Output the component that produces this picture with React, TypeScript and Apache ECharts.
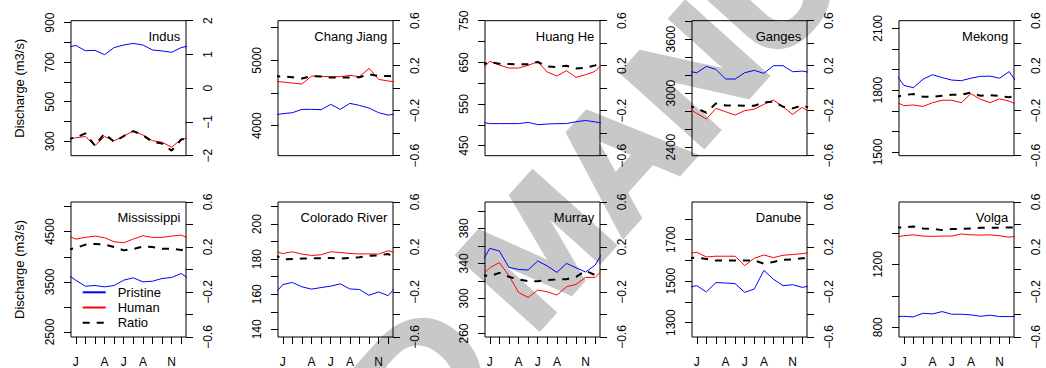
import React, { useEffect, useRef } from 'react';
import * as echarts from 'echarts';

// ---------- categories & tick labels ----------
const RIVERS = ['Indus', 'Chang Jiang', 'Huang He', 'Ganges', 'Mekong', 'Mississippi', 'Colorado River', 'Murray', 'Danube', 'Volga'];
const MONTH_LETTERS = ['J', 'F', 'M', 'A', 'M', 'J', 'J', 'A', 'S', 'O', 'N', 'D'];
const MONTH_TICKS = [1, 2, 3, 4, 5, 6, 7, 8, 9, 10, 11, 12];
const MONTH_LABEL_TICKS = [1, 4, 6, 8, 11];
const SERIES_NAMES = ['Pristine', 'Human', 'Ratio'];
const Y_TITLE = 'Discharge (m3/s)';
const WATERMARK = 'ACCEPTED MANUSCRIPT';

// ---------- series values (monthly, Jan..Dec) ----------
const INDUS_PRISTINE = [785, 758, 760, 738, 774, 787, 795, 787, 762, 757, 750, 774];
const INDUS_HUMAN = [318, 324, 278, 324, 302, 327, 352, 332, 303, 295, 270, 310];
const INDUS_RATIO = [-1.46, -1.34, -1.7, -1.34, -1.59, -1.42, -1.27, -1.39, -1.59, -1.64, -1.85, -1.52];

const CHANG_PRISTINE = [4184, 4199, 4250, 4250, 4245, 4327, 4250, 4342, 4311, 4270, 4199, 4163];
const CHANG_HUMAN = [4668, 4653, 4638, 4760, 4755, 4750, 4750, 4770, 4750, 4878, 4709, 4684];
const CHANG_RATIO = [0.104, 0.098, 0.086, 0.108, 0.104, 0.094, 0.096, 0.096, 0.098, 0.124, 0.108, 0.108];

const HUANG_PRISTINE = [503, 503, 503, 503, 506, 500.5, 502, 503, 503, 507.5, 510.5, 507];
const HUANG_HUMAN = [652.4, 643.6, 636.4, 636.4, 642.8, 651.6, 626.8, 617.2, 630, 614, 620.4, 628.4];
const HUANG_RATIO = [0.233, 0.218, 0.215, 0.212, 0.212, 0.233, 0.194, 0.188, 0.2, 0.176, 0.182, 0.203];

const GANGES_PRISTINE = [3226, 3296, 3263, 3156, 3156, 3226, 3252, 3219, 3304, 3304, 3237, 3244];
const GANGES_HUMAN = [2774, 2711, 2830, 2793, 2756, 2804, 2822, 2874, 2922, 2848, 2763, 2841];
const GANGES_RATIO = [-0.179, -0.218, -0.135, -0.153, -0.153, -0.156, -0.156, -0.126, -0.12, -0.164, -0.179, -0.153];

const MEKONG_PRISTINE = [1823, 1812, 1853, 1875, 1861, 1849, 1846, 1858, 1867, 1868, 1858, 1890];
const MEKONG_HUMAN = [1725, 1728, 1721, 1739, 1751, 1751, 1739, 1783, 1756, 1739, 1758, 1747];
const MEKONG_RATIO = [-0.061, -0.052, -0.076, -0.076, -0.067, -0.058, -0.058, -0.04, -0.067, -0.061, -0.07, -0.081];

const MISSISSIPPI_PRISTINE = [3533, 3413, 3427, 3400, 3427, 3533, 3580, 3500, 3513, 3567, 3587, 3667];
const MISSISSIPPI_HUMAN = [4353, 4387, 4413, 4380, 4300, 4280, 4353, 4420, 4387, 4387, 4413, 4433];
const MISSISSIPPI_RATIO = [0.191, 0.221, 0.227, 0.221, 0.2, 0.17, 0.182, 0.203, 0.2, 0.185, 0.185, 0.173];

const COLORADO_PRISTINE = [165.5, 166.7, 164.2, 162.9, 163.8, 164.6, 165.9, 163.0, 162.7, 159.4, 161.3, 159.2];
const COLORADO_HUMAN = [183.2, 184.2, 182.9, 182.1, 182.5, 184.2, 183.8, 183.2, 183.0, 183.0, 182.9, 184.8];
const COLORADO_RATIO = [0.091, 0.094, 0.097, 0.1, 0.1, 0.103, 0.097, 0.103, 0.109, 0.121, 0.126, 0.138];

const MURRAY_PRISTINE = [357.1, 354.1, 335.4, 333.1, 332.4, 342.7, 337, 329.7, 340, 335, 330.1, 338.1];
const MURRAY_HUMAN = [335, 340.8, 326, 306.9, 301.1, 309.5, 307.6, 303.8, 313.3, 316, 324, 324];
const MURRAY_RATIO = [-0.059, -0.03, -0.065, -0.089, -0.104, -0.104, -0.095, -0.089, -0.086, -0.065, -0.012, -0.05];

const DANUBE_PRISTINE = [1478, 1448, 1493, 1491, 1488, 1446, 1462, 1552, 1509, 1478, 1483, 1470];
const DANUBE_HUMAN = [1639, 1616.5, 1620, 1620, 1620, 1575, 1610, 1626, 1613, 1624.5, 1628, 1632.5];
const DANUBE_RATIO = [0.105, 0.093, 0.079, 0.079, 0.079, 0.081, 0.081, 0.052, 0.067, 0.087, 0.09, 0.099];

const VOLGA_PRISTINE = [870, 866, 889, 885, 900, 883, 883, 879, 870, 877, 868, 868];
const VOLGA_HUMAN = [1383, 1389, 1381, 1379, 1381, 1381, 1394, 1389, 1387, 1389, 1383, 1374];
const VOLGA_RATIO = [0.374, 0.383, 0.365, 0.362, 0.35, 0.359, 0.362, 0.365, 0.371, 0.371, 0.371, 0.374];

// ---------- left (discharge) axes: extent, ticks, labels ----------
const INDUS_AXIS = [227, 910];
const INDUS_TICKS = [300, 400, 500, 600, 700, 800, 900];
const INDUS_LABELS = [300, 500, 700, 900];
const CHANG_AXIS = [3541, 5607];
const CHANG_TICKS = [4000, 4500, 5000, 5500];
const CHANG_LABELS = [4000, 5000];
const HUANG_AXIS = [426, 750];
const HUANG_TICKS = [450, 500, 550, 600, 650, 700, 750];
const HUANG_LABELS = [450, 550, 650, 750];
const GANGES_AXIS = [2304, 3804];
const GANGES_TICKS = [2400, 2600, 2800, 3000, 3200, 3400, 3600, 3800];
const GANGES_LABELS = [2400, 3000, 3600];
const MEKONG_AXIS = [1482, 2137];
const MEKONG_TICKS = [1500, 1600, 1700, 1800, 1900, 2000, 2100];
const MEKONG_LABELS = [1500, 1800, 2100];
const MISSISSIPPI_AXIS = [2400, 5093];
const MISSISSIPPI_TICKS = [2500, 3000, 3500, 4000, 4500, 5000];
const MISSISSIPPI_LABELS = [2500, 3500, 4500];
const COLORADO_AXIS = [135.6, 212.6];
const COLORADO_TICKS = [140, 150, 160, 170, 180, 190, 200, 210];
const COLORADO_LABELS = [140, 160, 180, 200];
const MURRAY_AXIS = [256, 410];
const MURRAY_TICKS = [260, 280, 300, 320, 340, 360, 380, 400];
const MURRAY_LABELS = [260, 300, 340, 380];
const DANUBE_AXIS = [1231, 1881];
const DANUBE_TICKS = [1300, 1400, 1500, 1600, 1700, 1800];
const DANUBE_LABELS = [1300, 1500, 1700];
const VOLGA_AXIS = [738, 1598];
const VOLGA_TICKS = [800, 1000, 1200, 1400];
const VOLGA_LABELS = [800, 1200];

// ---------- right (ratio) axes ----------
const RATIO_AXIS_WIDE = [-2, 2];
const RATIO_TICKS_WIDE = [-2, -1, 0, 1, 2];
const RATIO_LABELS_WIDE = [-2, -1, 0, 1, 2];
const RATIO_AXIS = [-0.6, 0.6];
const RATIO_TICKS = [-0.6, -0.4, -0.2, 0, 0.2, 0.4, 0.6];
const RATIO_LABELS = [-0.6, -0.2, 0.2, 0.6];

const PANELS = [
  { p: INDUS_PRISTINE, h: INDUS_HUMAN, r: INDUS_RATIO, ax: INDUS_AXIS, tk: INDUS_TICKS, lb: INDUS_LABELS, rax: RATIO_AXIS_WIDE, rtk: RATIO_TICKS_WIDE, rlb: RATIO_LABELS_WIDE },
  { p: CHANG_PRISTINE, h: CHANG_HUMAN, r: CHANG_RATIO, ax: CHANG_AXIS, tk: CHANG_TICKS, lb: CHANG_LABELS, rax: RATIO_AXIS, rtk: RATIO_TICKS, rlb: RATIO_LABELS },
  { p: HUANG_PRISTINE, h: HUANG_HUMAN, r: HUANG_RATIO, ax: HUANG_AXIS, tk: HUANG_TICKS, lb: HUANG_LABELS, rax: RATIO_AXIS, rtk: RATIO_TICKS, rlb: RATIO_LABELS },
  { p: GANGES_PRISTINE, h: GANGES_HUMAN, r: GANGES_RATIO, ax: GANGES_AXIS, tk: GANGES_TICKS, lb: GANGES_LABELS, rax: RATIO_AXIS, rtk: RATIO_TICKS, rlb: RATIO_LABELS },
  { p: MEKONG_PRISTINE, h: MEKONG_HUMAN, r: MEKONG_RATIO, ax: MEKONG_AXIS, tk: MEKONG_TICKS, lb: MEKONG_LABELS, rax: RATIO_AXIS, rtk: RATIO_TICKS, rlb: RATIO_LABELS },
  { p: MISSISSIPPI_PRISTINE, h: MISSISSIPPI_HUMAN, r: MISSISSIPPI_RATIO, ax: MISSISSIPPI_AXIS, tk: MISSISSIPPI_TICKS, lb: MISSISSIPPI_LABELS, rax: RATIO_AXIS, rtk: RATIO_TICKS, rlb: RATIO_LABELS },
  { p: COLORADO_PRISTINE, h: COLORADO_HUMAN, r: COLORADO_RATIO, ax: COLORADO_AXIS, tk: COLORADO_TICKS, lb: COLORADO_LABELS, rax: RATIO_AXIS, rtk: RATIO_TICKS, rlb: RATIO_LABELS },
  { p: MURRAY_PRISTINE, h: MURRAY_HUMAN, r: MURRAY_RATIO, ax: MURRAY_AXIS, tk: MURRAY_TICKS, lb: MURRAY_LABELS, rax: RATIO_AXIS, rtk: RATIO_TICKS, rlb: RATIO_LABELS },
  { p: DANUBE_PRISTINE, h: DANUBE_HUMAN, r: DANUBE_RATIO, ax: DANUBE_AXIS, tk: DANUBE_TICKS, lb: DANUBE_LABELS, rax: RATIO_AXIS, rtk: RATIO_TICKS, rlb: RATIO_LABELS },
  { p: VOLGA_PRISTINE, h: VOLGA_HUMAN, r: VOLGA_RATIO, ax: VOLGA_AXIS, tk: VOLGA_TICKS, lb: VOLGA_LABELS, rax: RATIO_AXIS, rtk: RATIO_TICKS, rlb: RATIO_LABELS },
];

// ---------- layout ----------
const W = 1046;
const H = 368;
const COL_LEFT = [71, 278, 485, 692, 899];
const ROW_TOP = [20.7, 202];
const BOX_W = 115;
const BOX_H = 135;
const FONT = "'Liberation Sans', Arial, Helvetica, sans-serif";
const BLUE = '#0000ff';
const RED = '#ff0000';
const BLACK = '#000000';
const WM_GRAY = '#c8c8c8';

const wrap = (v: number[]) => [[0, v[11]], ...v.map((y, i) => [i + 1, y]), [13, v[0]]];
const fmt = (v: number) => (v < 0 ? '\u2212' + String(Math.abs(v)) : String(v));

function buildOption() {
  const grid: any[] = [];
  const xAxis: any[] = [];
  const yAxis: any[] = [];
  const series: any[] = [];
  const graphic: any[] = [];
  const tickLine = { color: BLACK, width: 1 };
  const labelBase = { color: BLACK, fontSize: 12, fontFamily: FONT };

  graphic.push({
    type: 'text',
    x: -119,
    y: 977,
    rotation: (48 * Math.PI) / 180,
    z: -10,
    silent: true,
    style: { text: WATERMARK, fill: WM_GRAY, stroke: WM_GRAY, lineWidth: 6, fontSize: 158, fontWeight: 'bold', fontFamily: FONT, align: 'left', verticalAlign: 'middle' },
  });

  PANELS.forEach((pn, i) => {
    const row = Math.floor(i / 5);
    const col = i % 5;
    const left = COL_LEFT[col];
    const top = ROW_TOP[row];
    grid.push({ left, top, width: BOX_W, height: BOX_H, show: true, borderColor: BLACK, borderWidth: 1, backgroundColor: 'transparent', containLabel: false, outerBoundsMode: 'none' });
    const bottomRow = row === 1;
    xAxis.push({
      type: 'value', gridIndex: i, min: 0.5, max: 12.5, position: 'bottom',
      axisLine: { show: false, onZero: false }, splitLine: { show: false },
      axisTick: bottomRow ? { show: true, customValues: MONTH_TICKS, length: 7, lineStyle: tickLine } : { show: false },
      axisLabel: bottomRow ? { show: true, customValues: MONTH_LABEL_TICKS, margin: 19, formatter: (v: number) => MONTH_LETTERS[v - 1], ...labelBase } : { show: false },
    });
    yAxis.push({
      type: 'value', gridIndex: i, position: 'left', min: pn.ax[0], max: pn.ax[1],
      axisLine: { show: false, onZero: false }, splitLine: { show: false },
      axisTick: { show: true, customValues: pn.tk, length: 7, lineStyle: tickLine },
      axisLabel: { show: true, customValues: pn.lb, rotate: 90, margin: 15, formatter: fmt, ...labelBase },
    });
    yAxis.push({
      type: 'value', gridIndex: i, position: 'right', min: pn.rax[0], max: pn.rax[1],
      axisLine: { show: false, onZero: false }, splitLine: { show: false },
      axisTick: { show: true, customValues: pn.rtk, length: 7, lineStyle: tickLine },
      axisLabel: { show: true, customValues: pn.rlb, rotate: 90, margin: 16, formatter: fmt, ...labelBase },
    });
    series.push({ type: 'line', name: SERIES_NAMES[0], xAxisIndex: i, yAxisIndex: 2 * i, data: wrap(pn.p), symbol: 'none', silent: true, clip: true, z: 3, lineStyle: { color: BLUE, width: 1 }, itemStyle: { color: BLUE } });
    series.push({ type: 'line', name: SERIES_NAMES[1], xAxisIndex: i, yAxisIndex: 2 * i, data: wrap(pn.h), symbol: 'none', silent: true, clip: true, z: 4, lineStyle: { color: RED, width: 1 }, itemStyle: { color: RED } });
    series.push({ type: 'line', name: SERIES_NAMES[2], xAxisIndex: i, yAxisIndex: 2 * i + 1, data: wrap(pn.r), symbol: 'none', silent: true, clip: true, z: 5, lineStyle: { color: BLACK, width: 2, type: [7, 7] }, itemStyle: { color: BLACK } });

    graphic.push({
      type: 'text', x: left + BOX_W - 5.7, y: top + 15.8, silent: true, z: 10,
      style: { text: RIVERS[i], fill: BLACK, fontSize: 13, fontFamily: FONT, align: 'right', verticalAlign: 'middle' },
    });
  });

  ROW_TOP.forEach((t) => {
    graphic.push({
      type: 'text', x: 19.5, y: t + BOX_H / 2, rotation: Math.PI / 2, silent: true, z: 10,
      style: { text: Y_TITLE, fill: BLACK, fontSize: 13, fontFamily: FONT, align: 'center', verticalAlign: 'middle' },
    });
  });

  return {
    animation: false,
    backgroundColor: '#ffffff',
    textStyle: { fontFamily: FONT },
    grid, xAxis, yAxis, series, graphic,
    legend: {
      data: SERIES_NAMES, orient: 'vertical', left: 81.7, top: 285.8, itemWidth: 23, itemHeight: 13, itemGap: 2.2,
      padding: 0, selectedMode: false,
      itemStyle: { opacity: 0, borderWidth: 0 },
      textStyle: { fontSize: 13, color: BLACK, fontFamily: FONT, padding: [0, 0, 0, 7], lineHeight: 13 },
    },
  };
}

export default function App() {
  const ref = useRef<HTMLDivElement>(null);
  useEffect(() => {
    document.body.style.margin = '0';
    if (!ref.current) return;
    const chart = echarts.init(ref.current, undefined, { renderer: 'svg' });
    chart.setOption(buildOption() as any);
    return () => chart.dispose();
  }, []);
  return <div ref={ref} style={{ width: W, height: H }} />;
}
